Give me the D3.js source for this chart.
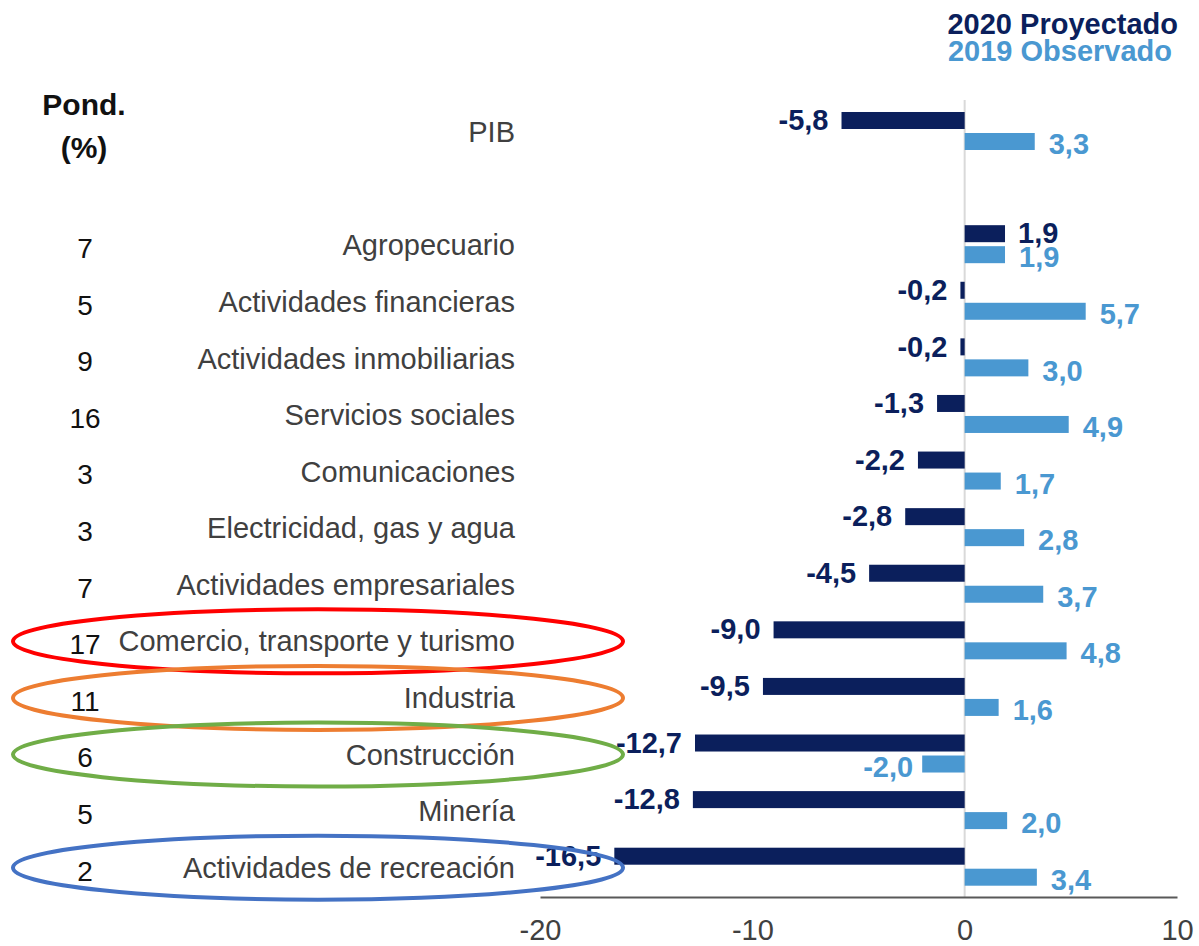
<!DOCTYPE html>
<html>
<head>
<meta charset="utf-8">
<script src="https://cdn.jsdelivr.net/npm/d3@7"></script>
<style>
  body { margin: 0; background: #fff; }
  text { font-family: "Liberation Sans", Arial, sans-serif; }
</style>
</head>
<body>
<div id="chart"></div>
<script>
// Data
const categories = ['PIB', '', 'Agropecuario', 'Actividades financieras', 'Actividades inmobiliarias',
  'Servicios sociales', 'Comunicaciones', 'Electricidad, gas y agua', 'Actividades empresariales',
  'Comercio, transporte y turismo', 'Industria', 'Construcción', 'Minería', 'Actividades de recreación']
const ponderacion = [null, null, 7, 5, 9, 16, 3, 3, 7, 17, 11, 6, 5, 2]
const proyectado2020 = [-5.8, null, 1.9, -0.2, -0.2, -1.3, -2.2, -2.8, -4.5, -9.0, -9.5, -12.7, -12.8, -16.5]
const observado2019 = [3.3, null, 1.9, 5.7, 3.0, 4.9, 1.7, 2.8, 3.7, 4.8, 1.6, -2.0, 2.0, 3.4]
const xTicks = [-20, -10, 0, 10]
const highlighted = [
  { cat: 'Comercio, transporte y turismo', color: '#ff0000' },
  { cat: 'Industria', color: '#ed7d31' },
  { cat: 'Construcción', color: '#70ad47' },
  { cat: 'Actividades de recreación', color: '#4472c4' },
]

const width = 1199
const height = 946
const dark = '#0b1f5c'
const light = '#4a98d1'

const svg = d3.select('#chart').append('svg')
  .attr('width', width)
  .attr('height', height)

const keys = categories.map((c, i) => i)

const x = d3.scaleLinear().domain([-20, 10]).range([540, 1177])
const y = d3.scaleBand().domain(keys).range([102.7, 895]).padding(0)

const fmt = v => d3.format('.1f')(v).replace('.', ',').replace('−', '-')
const rowCenter = i => y(i) + y.bandwidth() / 2

// zero line
svg.append('line')
  .attr('x1', x(0)).attr('x2', x(0))
  .attr('y1', 100).attr('y2', 897)
  .style('stroke', '#d9d9d9')
  .style('stroke-width', 2)

const rows = keys.filter(i => proyectado2020[i] !== null)

// 2020 bars
svg.append('g').selectAll('rect')
  .data(rows)
  .enter()
  .append('rect')
  .attr('x', i => x(Math.min(0, proyectado2020[i])))
  .attr('y', i => rowCenter(i) - 19)
  .attr('width', i => Math.abs(x(proyectado2020[i]) - x(0)))
  .attr('height', 17)
  .style('fill', dark)

// 2019 bars
svg.append('g').selectAll('rect')
  .data(rows)
  .enter()
  .append('rect')
  .attr('x', i => x(Math.min(0, observado2019[i])))
  .attr('y', i => rowCenter(i) + 2)
  .attr('width', i => Math.abs(x(observado2019[i]) - x(0)))
  .attr('height', 17)
  .style('fill', light)

// value labels
svg.append('g').selectAll('text')
  .data(rows)
  .enter()
  .append('text')
  .attr('x', i => proyectado2020[i] < 0 ? x(proyectado2020[i]) - 13 : x(proyectado2020[i]) + 13)
  .attr('y', i => rowCenter(i) - 11)
  .attr('dy', '0.35em')
  .attr('text-anchor', i => proyectado2020[i] < 0 ? 'end' : 'start')
  .style('font-size', '29px')
  .style('font-weight', 'bold')
  .style('fill', dark)
  .text(i => fmt(proyectado2020[i]))

svg.append('g').selectAll('text')
  .data(rows)
  .enter()
  .append('text')
  .attr('x', i => observado2019[i] < 0 ? x(observado2019[i]) - 9 : x(observado2019[i]) + 14)
  .attr('y', i => rowCenter(i) + 13)
  .attr('dy', '0.35em')
  .attr('text-anchor', i => observado2019[i] < 0 ? 'end' : 'start')
  .style('font-size', '29px')
  .style('font-weight', 'bold')
  .style('fill', light)
  .text(i => fmt(observado2019[i]))

// category labels
svg.append('g').selectAll('text')
  .data(rows)
  .enter()
  .append('text')
  .attr('x', 515)
  .attr('y', i => rowCenter(i) + 1)
  .attr('dy', '0.35em')
  .attr('text-anchor', 'end')
  .style('font-size', '29px')
  .style('fill', '#404040')
  .text(i => categories[i])

// weights
svg.append('g').selectAll('text')
  .data(keys.filter(i => ponderacion[i] !== null))
  .enter()
  .append('text')
  .attr('x', 85)
  .attr('y', i => rowCenter(i) + 4)
  .attr('dy', '0.35em')
  .attr('text-anchor', 'middle')
  .style('font-size', '28px')
  .style('fill', '#111')
  .text(i => ponderacion[i])

svg.append('text')
  .attr('x', 84).attr('y', 104).attr('dy', '0.35em')
  .attr('text-anchor', 'middle')
  .style('font-size', '30px').style('font-weight', 'bold').style('fill', '#111')
  .text('Pond.')
svg.append('text')
  .attr('x', 84).attr('y', 147).attr('dy', '0.35em')
  .attr('text-anchor', 'middle')
  .style('font-size', '30px').style('font-weight', 'bold').style('fill', '#111')
  .text('(%)')

// legend
svg.append('text')
  .attr('x', 1178).attr('y', 24).attr('dy', '0.35em')
  .attr('text-anchor', 'end')
  .style('font-size', '29px').style('font-weight', 'bold').style('fill', dark)
  .text('2020 Proyectado')
svg.append('text')
  .attr('x', 1172).attr('y', 51).attr('dy', '0.35em')
  .attr('text-anchor', 'end')
  .style('font-size', '29px').style('font-weight', 'bold').style('fill', light)
  .text('2019 Observado')

// x axis
const xAxis = svg.append('g')
  .attr('transform', 'translate(0,897)')
  .call(d3.axisBottom(x).tickValues(xTicks).tickSize(0).tickPadding(22).tickFormat(d => d3.format('d')(d).replace('−', '-')))
xAxis.select('.domain').style('stroke', '#595959').style('stroke-width', 2)
xAxis.selectAll('text')
  .style('font-size', '29px')
  .style('font-family', '"Liberation Sans", Arial, sans-serif')
  .style('fill', '#404040')

// highlight ellipses
svg.append('g').selectAll('ellipse')
  .data(highlighted)
  .enter()
  .append('ellipse')
  .attr('cx', 318)
  .attr('cy', d => rowCenter(categories.indexOf(d.cat)) + 1)
  .attr('rx', 305)
  .attr('ry', 32)
  .style('fill', 'none')
  .style('stroke', d => d.color)
  .style('stroke-width', 4)
</script>
</body>
</html>
